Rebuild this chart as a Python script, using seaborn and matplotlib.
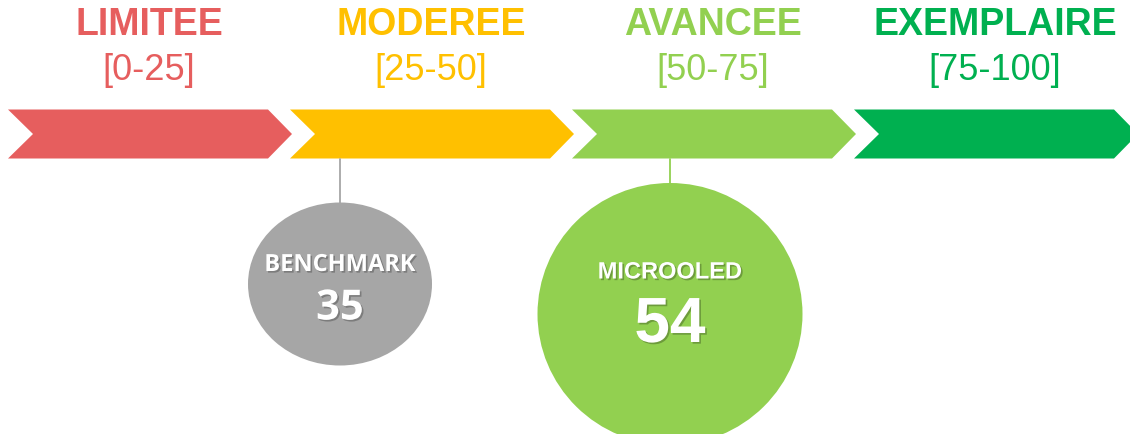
import numpy as np
import matplotlib
matplotlib.use("Agg")
import matplotlib.pyplot as plt
import matplotlib.patches as mpatches
import matplotlib.patheffects as pe
import seaborn as sns

# maturity levels
levels = ['LIMITEE', 'MODEREE', 'AVANCEE', 'EXEMPLAIRE']
ranges = ['[0-25]', '[25-50]', '[50-75]', '[75-100]']
level_colors = ['#E65E5E', '#FFC000', '#92D050', '#00B050']

# scores
score_names = ['BENCHMARK', 'MICROOLED']
score_values = [35, 54]
score_colors = ['#A6A6A6', '#92D050']

sns.set_style("white")
plt.rcParams['font.family'] = ['Liberation Sans', 'DejaVu Sans']

fig = plt.figure(figsize=(11.3, 4.34), dpi=100)
ax = fig.add_axes([0, 0, 1, 1])
ax.set_xlim(0, 1130)
ax.set_ylim(434, 0)
ax.axis('off')

# layout (pixels)
step, x_start = 282, 8
top, bot = 109.5, 158.5
mid = (top + bot) / 2
body, tip, notch = 260, 284, 25

for i, (lvl, rng, col) in enumerate(zip(levels, ranges, level_colors)):
    x0 = x_start + step * i
    pts = [(x0, top), (x0 + body, top), (x0 + tip, mid),
           (x0 + body, bot), (x0, bot), (x0 + notch, mid)]
    ax.add_patch(mpatches.Polygon(pts, closed=True, color=col, lw=0))
    cx = x0 + 141
    ax.text(cx, 25, lvl, color=col, fontsize=27, fontweight='bold',
            ha='center', va='center')
    ax.text(cx, 71, rng, color=col, fontsize=26, ha='center', va='center')

# bubbles: centre x, centre y, width, height
bubble_layout = [(340, 284, 184, 163), (670, 314, 265, 262)]
name_style = [dict(fontsize=17, family=['Open Sans', 'DejaVu Sans']),
              dict(fontsize=17, family=['Liberation Sans', 'DejaVu Sans'])]
value_style = [dict(fontsize=30, family=['Open Sans', 'DejaVu Sans']),
               dict(fontsize=46, family=['Liberation Sans', 'DejaVu Sans'])]
name_dy = [-19, -42]
value_dy = [25, 11]

shadow = [pe.withSimplePatchShadow(offset=(1.2, -1.2), shadow_rgbFace='black', alpha=0.25)]

for k, (name, val, col) in enumerate(zip(score_names, score_values, score_colors)):
    cx, cy, w, h = bubble_layout[k]
    ax.plot([cx, cx], [bot, cy - h / 2 + 2], color=col, lw=1.3, zorder=1)
    ax.add_patch(mpatches.Ellipse((cx, cy), w, h, color=col, lw=0, zorder=2))
    ax.text(cx, cy + name_dy[k], name, color='white', fontweight='bold',
            ha='center', va='center', zorder=3, path_effects=shadow, **name_style[k])
    ax.text(cx, cy + value_dy[k], str(val), color='white', fontweight='bold',
            ha='center', va='center', zorder=3, path_effects=shadow, **value_style[k])

fig.savefig('out.png', dpi=100)
